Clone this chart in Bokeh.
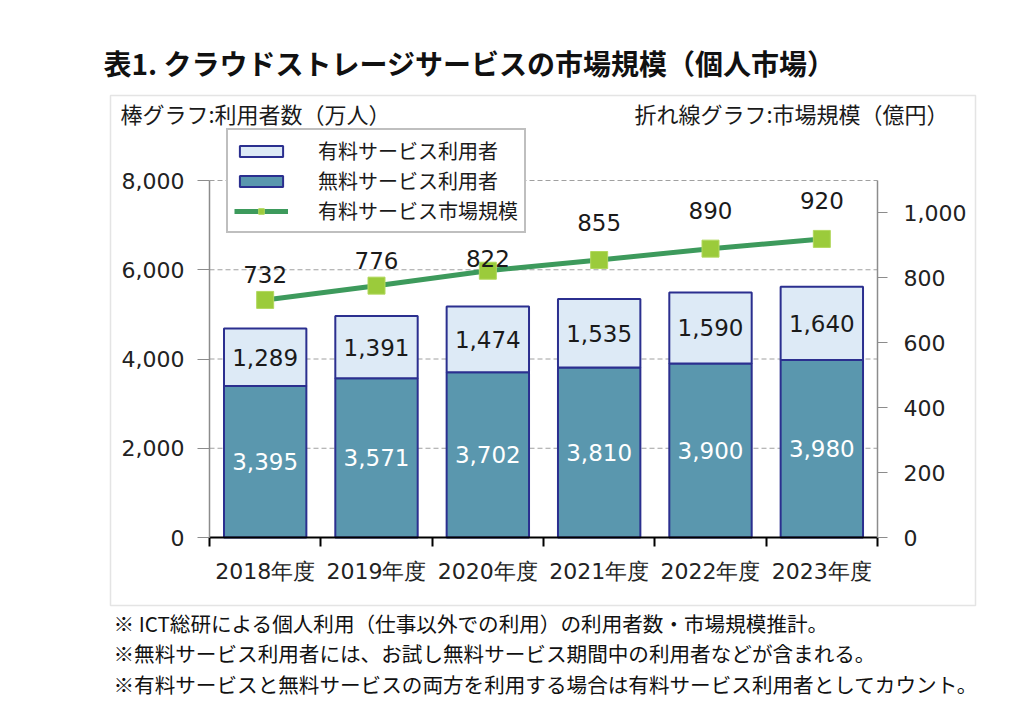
from bokeh.plotting import figure
from bokeh.models import (Range1d, LinearAxis, FixedTicker, ColumnDataSource, LabelSet, Label,
                          Legend, LegendItem, BoxAnnotation, NumeralTickFormatter,
                          CustomJSTickFormatter)
from bokeh.core.properties import value
from bokeh.embed import file_html
from bokeh.resources import INLINE

# ---------------- data ----------------
years = ["2018年度", "2019年度", "2020年度", "2021年度", "2022年度", "2023年度"]
free_users = [3395, 3571, 3702, 3810, 3900, 3980]
paid_users = [1289, 1391, 1474, 1535, 1590, 1640]
market_size = [732, 776, 822, 855, 890, 920]
left_ticks = [0, 2000, 4000, 6000, 8000]
right_ticks = [0, 200, 400, 600, 800, 1000]
left_max = 8000
right_max = 1100

title_text = "表1. クラウドストレージサービスの市場規模（個人市場）"
left_title = "棒グラフ:利用者数（万人）"
right_title = "折れ線グラフ:市場規模（億円）"
notes = [
    "※ ICT総研による個人利用（仕事以外での利用）の利用者数・市場規模推計。",
    "※無料サービス利用者には、お試し無料サービス期間中の利用者などが含まれる。",
    "※有料サービスと無料サービスの両方を利用する場合は有料サービス利用者としてカウント。",
]
legend_labels = ["有料サービス利用者", "無料サービス利用者", "有料サービス市場規模"]

# label placement offsets (px) for line value labels
label_dy = [25, 25, 12, 38, 38, 38]

# ---------------- layout (canvas pixels) ----------------
W, H = 1024, 728
FL, FR, FT, FB = 209, 877, 180, 537   # plot area edges

def sx(cx):
    return cx

def sy(cy):
    return H - cy

n = len(years)
ux = (FR - FL) / n                   # px per category
x_start = -FL / ux
x_end = n + (W - FR) / ux
ly = (FB - FT) / left_max            # px per left unit
ry = (FB - FT) / right_max
y_start = -(H - FB) / ly
y_end = left_max + FT / ly
r_start = -(H - FB) / ry
r_end = right_max + FT / ry

centers = [i + 0.5 for i in range(n)]
bounds = [i for i in range(n + 1)]
totals = [f + q for f, q in zip(free_users, paid_users)]

src = ColumnDataSource(dict(
    x=centers,
    free=free_users,
    paid=paid_users,
    total=totals,
    free_mid=[f / 2 for f in free_users],
    paid_mid=[f + q / 2 for f, q in zip(free_users, paid_users)],
    free_lbl=[f"{v:,}" for v in free_users],
    paid_lbl=[f"{v:,}" for v in paid_users],
    mkt=market_size,
    mkt_lbl=[f"{v:,}" for v in market_size],
    dy=label_dy,
))

p = figure(width=W, height=H, output_backend="svg", toolbar_location=None,
           x_range=Range1d(x_start, x_end), y_range=Range1d(y_start, y_end),
           x_axis_type=None, y_axis_type=None,
           min_border=0, min_border_left=0, min_border_right=0,
           min_border_top=0, min_border_bottom=0)
p.title.visible = False
p.extra_y_ranges = {"mkt": Range1d(r_start, r_end)}
p.outline_line_color = None
p.background_fill_color = "white"
p.border_fill_color = "white"
p.xgrid.visible = False
p.ygrid.visible = False

NUM_FONT = "DejaVu Sans"
JP_FONT = "Noto Sans CJK JP"

# grid lines (dashed) at left ticks
gt = left_ticks[1:]
p.segment(x0=[0] * len(gt), x1=[n] * len(gt), y0=gt, y1=gt,
          line_color="#a0a0a0", line_dash="5 3", line_width=1)

# left axis
la = LinearAxis(ticker=FixedTicker(ticks=left_ticks),
                formatter=NumeralTickFormatter(format="0,0"),
                fixed_location=0, bounds=(0, left_max))
la.axis_line_color = "#8c8c8c"
la.axis_line_width = 1.5
la.major_tick_line_color = "#8c8c8c"
la.major_tick_out = 12
la.major_tick_in = 0
la.minor_tick_line_color = None
la.major_label_text_font = NUM_FONT
la.major_label_text_font_size = "22px"
la.major_label_text_color = "#222222"
la.major_label_standoff = 13
p.add_layout(la, "left")

# right axis
ra = LinearAxis(y_range_name="mkt", ticker=FixedTicker(ticks=right_ticks),
                formatter=NumeralTickFormatter(format="0,0"),
                fixed_location=n, bounds=(0, right_max))
ra.axis_line_color = "#8c8c8c"
ra.axis_line_width = 1.5
ra.major_tick_line_color = "#8c8c8c"
ra.major_tick_out = 10
ra.major_tick_in = 0
ra.minor_tick_line_color = None
ra.major_label_text_font = NUM_FONT
ra.major_label_text_font_size = "22px"
ra.major_label_text_color = "#222222"
ra.major_label_standoff = 16
p.add_layout(ra, "right")

# bottom axis
xa = LinearAxis(ticker=FixedTicker(ticks=centers, minor_ticks=bounds),
                formatter=CustomJSTickFormatter(args=dict(labels=years),
                                                code="return labels[Math.floor(tick)] || ''"),
                fixed_location=0, bounds=(0, n))
xa.axis_line_color = "black"
xa.axis_line_width = 2
xa.major_tick_out = 0
xa.major_tick_in = 0
xa.major_tick_line_color = None
xa.minor_tick_out = 9
xa.minor_tick_in = 0
xa.minor_tick_line_color = "black"
xa.minor_tick_line_width = 2
xa.major_label_text_font = NUM_FONT
xa.major_label_text_font_size = "22px"
xa.major_label_text_color = "#222222"
xa.major_label_standoff = 12
p.add_layout(xa, "below")

# bars
BAR_W = 0.74
EDGE = "#2B2F8F"
free_r = p.vbar(x="x", bottom=0, top="free", width=BAR_W, source=src,
                fill_color="#5A97AE", line_color=EDGE, line_width=2)
paid_r = p.vbar(x="x", bottom="free", top="total", width=BAR_W, source=src,
                fill_color="#DDEAF6", line_color=EDGE, line_width=2)

# line
line_r = p.line(x="x", y="mkt", source=src, y_range_name="mkt",
                line_color="#3D9A5C", line_width=5)
mark_r = p.scatter(x="x", y="mkt", source=src, y_range_name="mkt", marker="square",
                   size=17, fill_color="#9BCB3B", line_color="#B2D85E", line_width=1)

# value labels
p.add_layout(LabelSet(x="x", y="free_mid", text="free_lbl", source=src,
                      text_align="center", text_baseline="middle",
                      text_font=value(NUM_FONT), text_font_size=value("23px"),
                      text_color="white"))
p.add_layout(LabelSet(x="x", y="paid_mid", text="paid_lbl", source=src,
                      text_align="center", text_baseline="middle",
                      text_font=value(NUM_FONT), text_font_size=value("23px"),
                      text_color="#1a1a1a"))
p.add_layout(LabelSet(x="x", y="mkt", text="mkt_lbl", source=src, y_range_name="mkt",
                      y_offset="dy", text_align="center", text_baseline="middle",
                      text_font=value(NUM_FONT), text_font_size=value("23px"),
                      text_color="#1a1a1a"))

# legend
legend = Legend(items=[
    LegendItem(label=legend_labels[0], renderers=[paid_r]),
    LegendItem(label=legend_labels[1], renderers=[free_r]),
    LegendItem(label=legend_labels[2], renderers=[line_r, mark_r]),
], location=(sx(226), sy(233)))
legend.border_line_color = "#7f7f7f"
legend.border_line_width = 2
legend.background_fill_color = "white"
legend.background_fill_alpha = 1
legend.label_text_font = JP_FONT
legend.label_text_font_size = "20px"
legend.label_text_color = "#1a1a1a"
legend.glyph_width = 54
legend.glyph_height = 14
legend.label_height = 20
legend.label_standoff = 30
legend.spacing = 1
legend.padding = 6
legend.margin = 0
p.add_layout(legend)

# outer frame box
p.add_layout(BoxAnnotation(left=sx(110), right=sx(975), top=sy(95), bottom=sy(605),
                           left_units="screen", right_units="screen",
                           top_units="screen", bottom_units="screen",
                           fill_alpha=0, line_color="#a6a6a6", line_width=1.5))

# texts
p.add_layout(Label(x=sx(103), y=sy(62), x_units="screen", y_units="screen",
                   text=title_text, text_font=JP_FONT, text_font_size="28px",
                   text_font_style="bold", text_baseline="middle", text_color="#111111"))
p.add_layout(Label(x=sx(120), y=sy(112), x_units="screen", y_units="screen",
                   text=left_title, text_font=JP_FONT, text_font_size="22px",
                   text_baseline="middle", text_color="#1a1a1a"))
p.add_layout(Label(x=sx(948), y=sy(112), x_units="screen", y_units="screen",
                   text=right_title, text_font=JP_FONT, text_font_size="22px",
                   text_align="right", text_baseline="middle", text_color="#1a1a1a"))
for i, t in enumerate(notes):
    p.add_layout(Label(x=sx(113), y=sy(622 + 30.5 * i), x_units="screen", y_units="screen",
                       text=t, text_font=JP_FONT, text_font_size="20.6px",
                       text_baseline="middle", text_color="#111111"))

open("out.html", "w").write(file_html(p, INLINE))
